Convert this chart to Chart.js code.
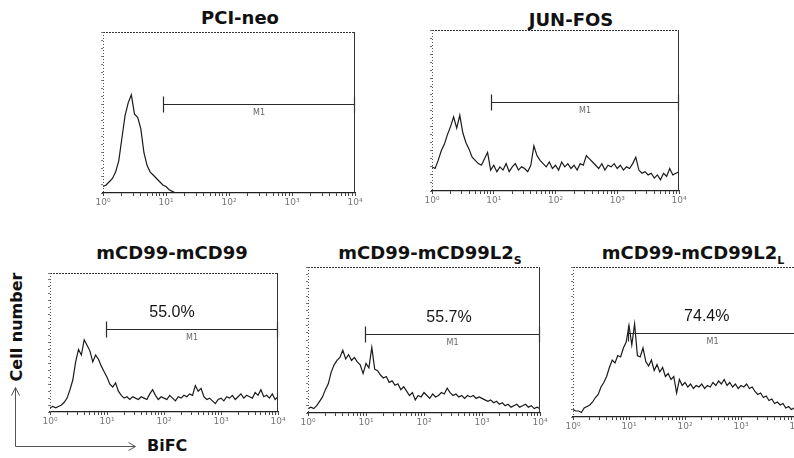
<!DOCTYPE html>
<html>
<head>
<meta charset="utf-8">
<script src="https://cdn.jsdelivr.net/npm/chart.js@4/dist/chart.umd.min.js"></script>
<style>
  html, body { margin: 0; padding: 0; background: #fff; }
  body { width: 794px; height: 458px; position: relative; overflow: hidden; font-family: "DejaVu Sans", sans-serif; }
  canvas { position: absolute; }
  .title { position: absolute; font-weight: bold; font-size: 18px; color: #111; line-height: 1; white-space: nowrap; transform: translateX(-50%); }
  .title sub { font-size: 11px; vertical-align: -5px; line-height: 0; }
  .axis-name { position: absolute; font-weight: bold; font-size: 16px; color: #111; line-height: 1; white-space: nowrap; }
  #cellNumber { left: 17px; top: 327px; transform: translate(-50%, -50%) rotate(-90deg); }
  #bifc { left: 147px; top: 438px; }
  svg { position: absolute; left: 0; top: 0; }
</style>
</head>
<body>
<div class="title" style="left:240px; top:9px">PCI-neo</div>
<div class="title" style="left:571px; top:11px">JUN-FOS</div>
<div class="title" style="left:172px; top:244px">mCD99-mCD99</div>
<div class="title" style="left:430px; top:244px">mCD99-mCD99L2<sub>S</sub></div>
<div class="title" style="left:693px; top:244px">mCD99-mCD99L2<sub>L</sub></div>
<div class="axis-name" id="cellNumber">Cell number</div>
<div class="axis-name" id="bifc">BiFC</div>
<svg width="794" height="458">
  <g stroke="#555" stroke-width="1" fill="none">
    <polyline points="15.5,446.5 15.5,387.5" />
    <polyline points="11.5,395.5 15.5,387.5 19.5,395.5" />
    <polyline points="15.5,446.5 135.5,446.5" />
    <polyline points="128.5,442.5 135.5,446.5 128.5,450.5" />
  </g>
</svg>
<script>
// channel spacing: one value every 0.05 decade, from 10^0 to 10^4
const decadeStep = 0.05;
const tickLabels = ['10\u2070', '10\u00B9', '10\u00B2', '10\u00B3', '10\u2074'];

// cell counts, in % of the plot height
const pciNeo = [
  4, 5, 7, 9, 13, 20, 34, 48, 56, 61,
  49, 47, 40, 25, 17, 13, 11, 9, 7, 5,
  4, 2, 1, 0, 0, 0, 0, 0, 0, 0,
  0, 0, 0, 0, 0, 0, 0, 0, 0, 0,
  0, 0, 0, 0, 0, 0, 0, 0, 0, 0,
  0, 0, 0, 0, 0, 0, 0, 0, 0, 0,
  0, 0, 0, 0, 0, 0, 0, 0, 0, 0,
  0, 0, 0, 0, 0, 0, 0, 0, 0, 0,
  0
];
const junFos = [
  15, 14, 19, 25, 29, 35, 40, 46, 39, 47,
  36, 30, 26, 21, 19, 17, 16, 20, 24, 13,
  16, 12, 15, 13, 17, 12, 15, 17, 13, 15,
  14, 12, 16, 28, 22, 19, 17, 15, 18, 14,
  16, 13, 18, 15, 17, 14, 16, 13, 17, 16,
  22, 20, 18, 16, 14, 17, 13, 16, 15, 17,
  14, 16, 13, 15, 14, 17, 21, 13, 11, 12,
  10, 11, 8, 10, 7, 11, 9, 14, 10, 11,
  12
];
const cd99Cd99 = [
  3, 4, 3, 4, 5, 7, 10, 16, 23, 36,
  45, 41, 52, 48, 44, 36, 41, 38, 33, 29,
  25, 20, 18, 21, 15, 12, 10, 11, 9, 11,
  10, 9, 11, 10, 9, 13, 16, 12, 9, 11,
  10, 9, 12, 10, 8, 11, 10, 12, 11, 13,
  12, 19, 15, 17, 11, 9, 10, 8, 6, 9,
  10, 8, 11, 10, 12, 9, 11, 13, 10, 12,
  11, 10, 14, 12, 16, 11, 12, 10, 13, 9,
  11
];
const cd99L2s = [
  3, 4, 3, 5, 8, 11, 16, 20, 28, 33,
  36, 38, 43, 37, 40, 36, 38, 35, 33, 27,
  34, 31, 45, 30, 29, 26, 24, 25, 21, 22,
  19, 20, 16, 18, 15, 12, 14, 9, 12, 11,
  14, 12, 10, 13, 11, 12, 14, 13, 17, 14,
  12, 13, 11, 12, 10, 12, 11, 12, 10, 11,
  10, 9, 8, 9, 7, 8, 6, 7, 5, 6,
  4, 5, 6, 4, 5, 6, 4, 5, 3, 4,
  3
];
const cd99L2l = [
  5, 4, 4, 3, 6, 7, 8, 10, 13, 15,
  20, 23, 27, 33, 38, 36, 41, 40, 46, 50,
  61, 48, 62, 41, 40, 46, 37, 34, 38, 31,
  35, 30, 33, 27, 29, 25, 27, 16, 25, 21,
  23, 20, 22, 19, 21, 20, 22, 19, 21, 20,
  23, 21, 24, 22, 25, 21, 23, 20, 22, 19,
  21, 20, 22, 19, 20, 17, 15, 16, 13, 14,
  11, 12, 9, 10, 8, 9, 6, 7, 5, 6,
  5
];

// M1 gate: start intensity, bar level, percent label
const gateStarts = [8.9, 9.0, 9.5, 9.6, 9.5];
const gateLevels = [55, 55, 60, 54, 56];
const gatePercents = ['', '', '55.0%', '55.7%', '74.4%'];

// layout of each plot box in page pixels, plus where the percent label sits
const panels = [
  { values: pciNeo,   box: { l: 103, t: 32,  r: 355, b: 193 }, pctAt: 1 },
  { values: junFos,   box: { l: 432, t: 30,  r: 679, b: 191 }, pctAt: 1 },
  { values: cd99Cd99, box: { l: 50,  t: 273, r: 278, b: 412 }, pctAt: 138 },
  { values: cd99L2s,  box: { l: 308, t: 267, r: 540, b: 413 }, pctAt: 270 },
  { values: cd99L2l,  box: { l: 573, t: 267, r: 797, b: 417 }, pctAt: 245 }
];

const framePlugin = {
  id: 'frame',
  afterDraw(chart) {
    const { ctx, chartArea: a } = chart;
    ctx.save();
    ctx.strokeStyle = '#333';
    ctx.lineWidth = 1;
    ctx.setLineDash([2, 1]);
    ctx.beginPath();
    ctx.moveTo(a.left, a.top + 0.5);
    ctx.lineTo(a.right, a.top + 0.5);
    ctx.stroke();
    ctx.strokeStyle = '#555';
    ctx.setLineDash([1, 2]);
    ctx.beginPath();
    ctx.moveTo(a.left + 0.5, a.top);
    ctx.lineTo(a.left + 0.5, a.bottom);
    ctx.stroke();
    ctx.strokeStyle = '#333';
    ctx.setLineDash([]);
    ctx.beginPath();
    ctx.moveTo(a.right - 0.5, a.top);
    ctx.lineTo(a.right - 0.5, a.bottom);
    ctx.stroke();
    ctx.restore();
  }
};

const gatePlugin = {
  id: 'gate',
  afterDatasetsDraw(chart, args, opts) {
    if (!opts.from) return;
    const { ctx, chartArea: a } = chart;
    const x = chart.scales.x, y = chart.scales.y;
    const x0 = Math.round(x.getPixelForValue(opts.from)) + 0.5;
    const x1 = a.right - 0.5;
    const yy = Math.round(y.getPixelForValue(opts.level)) + 0.5;
    ctx.save();
    ctx.strokeStyle = '#2a2a2a';
    ctx.lineWidth = 1.2;
    ctx.beginPath();
    ctx.moveTo(x0, yy); ctx.lineTo(x1, yy);
    ctx.moveTo(x0, yy - 8); ctx.lineTo(x0, yy + 8);
    ctx.moveTo(x1, yy - 8); ctx.lineTo(x1, yy + 8);
    ctx.stroke();
    ctx.fillStyle = '#666';
    ctx.font = '8px "DejaVu Sans"';
    ctx.textAlign = 'center';
    ctx.textBaseline = 'middle';
    ctx.fillText('M1', (x0 + x1) / 2, yy + 8);
    if (opts.pct) {
      ctx.fillStyle = '#151515';
      ctx.font = '16px "Liberation Sans"';
      ctx.fillText(opts.pct, x.getPixelForValue(opts.pctAt), yy - 17);
    }
    ctx.restore();
  }
};

Chart.register(framePlugin, gatePlugin);

function tickText(v) {
  const e = Math.round(Math.log10(v));
  return Math.abs(v - Math.pow(10, e)) < 1e-6 ? tickLabels[e] : '';
}

// log-scale ticks: every significand 1..9 in each decade, so the minor marks show
function decadeTicks(scale) {
  const ticks = [];
  for (let e = 0; e < 4; e++) {
    for (let s = 1; s < 10; s++) ticks.push({ value: s * Math.pow(10, e), major: s === 1 });
  }
  ticks.push({ value: 10000, major: true });
  scale.ticks = ticks;
}

function makeHistogram(p, i) {
  const padT = 2, axisW = 12, axisH = 18, padR = 12;
  const canvas = document.createElement('canvas');
  canvas.width = p.box.r - p.box.l + axisW + padR;
  canvas.height = p.box.b - p.box.t + padT + axisH;
  canvas.style.left = (p.box.l - axisW) + 'px';
  canvas.style.top = (p.box.t - padT) + 'px';
  document.body.appendChild(canvas);

  const points = p.values.map((v, k) => ({ x: Math.pow(10, k * decadeStep), y: v }));

  new Chart(canvas, {
    type: 'line',
    data: {
      datasets: [{
        data: points,
        borderColor: '#1a1a1a',
        borderWidth: 1.2,
        pointRadius: 0,
        tension: 0,
        fill: false
      }]
    },
    options: {
      responsive: false,
      animation: false,
      devicePixelRatio: 1,
      layout: { padding: { left: 0, top: padT, right: padR, bottom: 0 } },
      plugins: {
        legend: { display: false },
        tooltip: { enabled: false },
        gate: { from: gateStarts[i], level: gateLevels[i], pct: gatePercents[i], pctAt: p.pctAt }
      },
      scales: {
        x: {
          type: 'logarithmic',
          min: 1,
          max: 10000,
          afterBuildTicks: decadeTicks,
          afterFit(s) { s.height = axisH; s.paddingLeft = 0; s.paddingRight = 0; },
          ticks: {
            autoSkip: false, maxRotation: 0, minRotation: 0, padding: 1,
            color: '#777', font: { size: 9, family: 'DejaVu Sans' },
            callback: tickText
          },
          grid: { drawOnChartArea: false, tickLength: 3, color: '#444' },
          border: { color: '#222', width: 1.2 }
        },
        y: {
          min: 0,
          max: 100,
          afterFit(s) { s.width = axisW; s.paddingTop = 0; s.paddingBottom = 0; },
          ticks: { stepSize: 5, maxTicksLimit: 100, autoSkip: false, callback: () => '' },
          grid: { drawOnChartArea: false, tickLength: 2, color: '#777' },
          border: { display: false }
        }
      }
    }
  });
}

panels.forEach(makeHistogram);
</script>
</body>
</html>
